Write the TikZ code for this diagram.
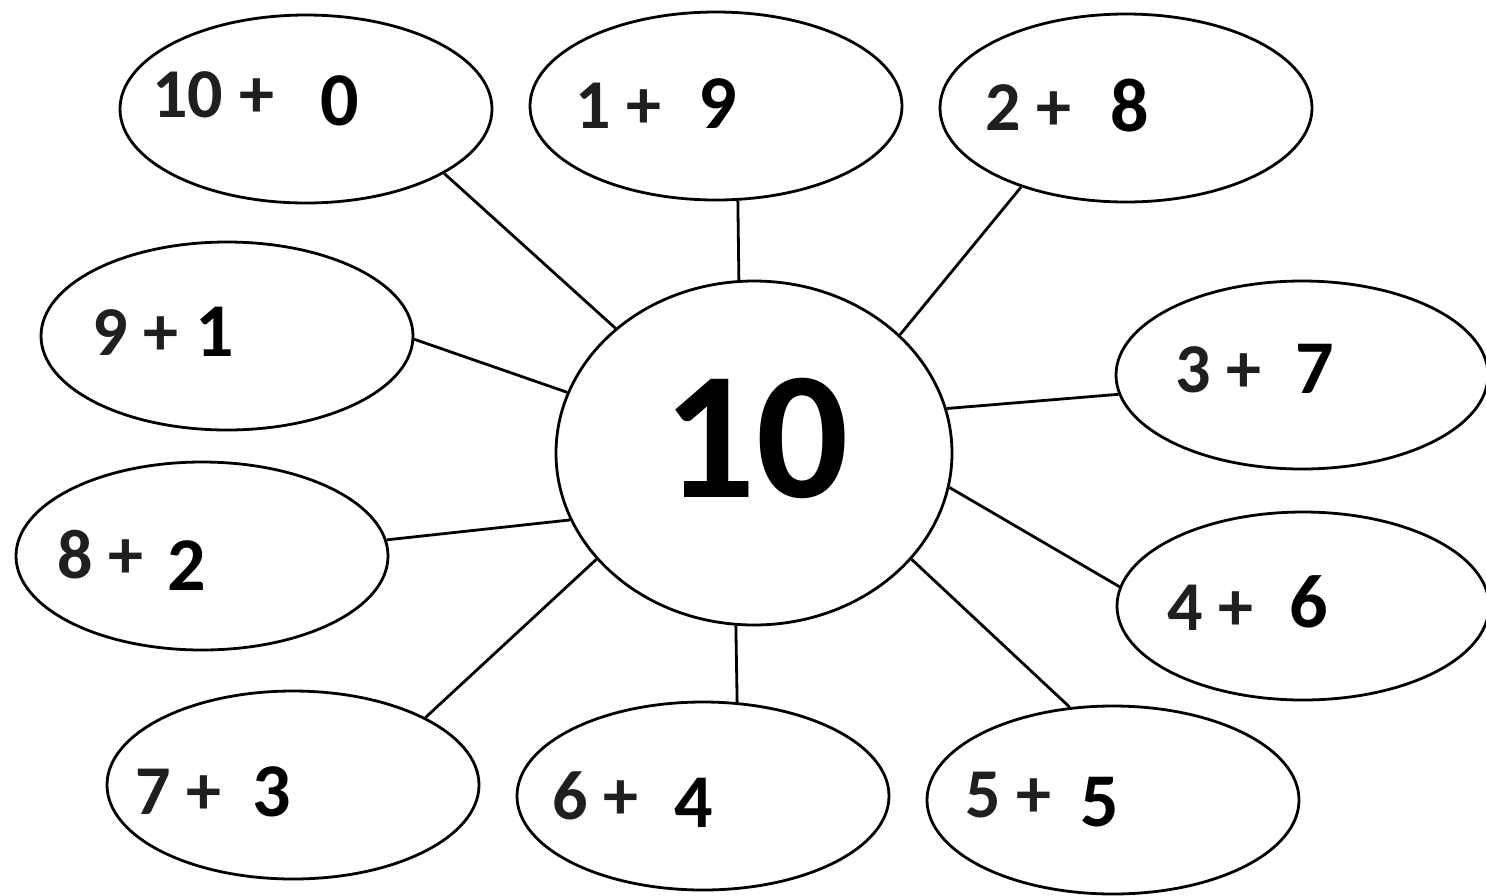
\documentclass[tikz,border=0pt]{standalone}
\usepackage{fontspec}
\setmainfont{Carlito}
\usetikzlibrary{shapes.geometric}
\tikzset{
  bubble/.style={draw=black, line width=2.8pt, ellipse, inner sep=0pt,
    minimum width=372pt, minimum height=188pt},
  hub/.style={draw=black, line width=2.8pt, ellipse, inner sep=0pt,
    minimum width=396pt, minimum height=344pt},
  spoke/.style={draw=black, line width=2.8pt},
  pre/.style={anchor=base west, inner sep=0pt, text=black!88,
    font=\bfseries\fontsize{70}{70}\selectfont},
  ans/.style={anchor=base west, inner sep=0pt, text=black,
    font=\bfseries\fontsize{76}{76}\selectfont},
}
\begin{document}
\begin{tikzpicture}[x=1pt,y=-1pt]
\useasboundingbox[fill=white] (0,0) rectangle (1486,895);
\node[hub] (c) at (754,453) {};
\node[anchor=center, inner sep=0pt, font=\bfseries\fontsize{182}{182}\selectfont] (ct) at (756,438) {10};

\node[bubble] (e1) at (306,109) {};
\node[bubble] (e2) at (716,106) {};
\node[bubble] (e3) at (1126,108) {};
\node[bubble] (e4) at (227,336) {};
\node[bubble] (e5) at (1302,375) {};
\node[bubble] (e6) at (202,556) {};
\node[bubble] (e7) at (1303,606) {};
\node[bubble] (e8) at (293,785) {};
\node[bubble] (e9) at (703,796) {};
\node[bubble] (e10) at (1113,800) {};

\draw[spoke] (c.138) -- (e1.-25);
\draw[spoke] (c.95.6) -- (e2.-77);
\draw[spoke] (c.39) -- (e3.217);
\draw[spoke] (c.162.6) -- (e4.-1);
\draw[spoke] (c.13.3) -- (e5.186);
\draw[spoke] (c.200.6) -- (e6.5.8);
\draw[spoke] (c.-10) -- (e7.174.3);
\draw[spoke] (c.214.7) -- (e8.27);
\draw[spoke] (c.264.4) -- (e9.70);
\draw[spoke] (c.-34) -- (e10.115);

\node[pre] (p1) at (152,117) {10 +};
\node[ans] (a1) at (320,125) {0};
\node[pre] (p2) at (575,128) {1 +};
\node[ans] (a2) at (698,128) {9};
\node[pre] (p3) at (985,130) {2 +};
\node[ans] (a3) at (1110,131) {8};
\node[pre] (p4) at (92,355) {9 +};
\node[ans] (a4) at (195,356) {1};
\node[pre] (p5) at (1175,392) {3 +};
\node[ans] (a5) at (1295,393) {7};
\node[pre] (p6) at (57,578) {8 +};
\node[ans] (a6) at (167,590) {2};
\node[pre] (p7) at (1167,630) {4 +};
\node[ans] (a7) at (1289,627) {6};
\node[pre] (p8) at (135,814) {7 +};
\node[ans] (a8) at (252,816) {3};
\node[pre] (p9) at (552,819) {6 +};
\node[ans] (a9) at (674,827) {4};
\node[pre] (p10) at (965,817) {5 +};
\node[ans] (a10) at (1080,826) {5};
\end{tikzpicture}
\end{document}
